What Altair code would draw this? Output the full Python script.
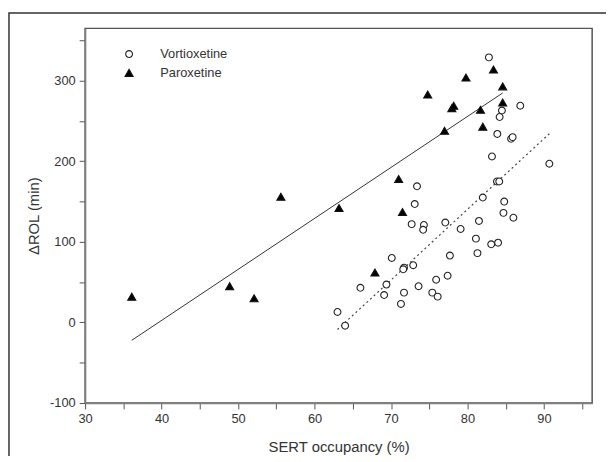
import altair as alt
import pandas as pd

# ---- data ----
drugs = ["Vortioxetine", "Paroxetine"]

vort_x = [82.8, 86.9, 84.5, 84.2, 83.9, 85.7, 85.9, 83.2, 90.7, 83.85,
          84.15, 73.4, 82.0, 84.8, 73.1, 84.7, 86.0, 81.5, 77.1, 72.7,
          74.3, 74.2, 79.1, 81.1, 83.1, 84.0, 81.3, 70.1, 77.7, 72.9,
          71.7, 71.6, 66.0, 69.4, 69.1, 71.7, 71.3, 73.6, 75.9, 77.4,
          75.4, 76.1, 63.0, 64.0]
vort_y = [329, 269, 263, 255, 234, 228, 230, 206, 197, 175,
          175, 169, 155, 150, 147, 136, 130, 126, 124, 122,
          121, 115, 116, 104, 97, 99, 86, 80, 83, 71,
          68, 66, 43, 47, 34, 37, 23, 45, 53, 58,
          37, 32, 13, -4]

par_x = [36.1, 48.9, 52.1, 55.6, 63.2, 67.9, 71.0, 71.5, 74.8, 77.0,
         77.95, 78.2, 79.8, 81.7, 82.0, 83.4, 84.6, 84.6]
par_y = [32, 45, 30, 156, 142, 62, 178, 137, 283, 238,
         266, 269, 304, 264, 243, 314, 293, 273]

x_ticks = [30, 35, 40, 45, 50, 55, 60, 65, 70, 75, 80, 85, 90, 95]
y_ticks = [-100, -50, 0, 50, 100, 150, 200, 250, 300, 350]

df = pd.DataFrame({
    "occ": vort_x + par_x,
    "rol": vort_y + par_y,
    "drug": [drugs[0]] * len(vort_x) + [drugs[1]] * len(par_x),
})

FONT = "Liberation Sans"
TXT = "#333333"

xscale = alt.Scale(domain=[30, 96.3], nice=False, zero=False)
yscale = alt.Scale(domain=[-100, 365], nice=False, zero=False)

common_axis = dict(
    grid=False, domainColor="#808080", domainWidth=1.5,
    tickColor="#555555", tickSize=6, tickWidth=1,
    labelFont=FONT, labelFontSize=13, labelColor=TXT, labelPadding=4,
    labelOverlap=False, labelFlush=False,
    titleFont=FONT, titleFontSize=15, titleFontWeight="normal", titleColor=TXT,
)
xaxis = alt.Axis(title="SERT occupancy (%)", values=x_ticks,
                 labelExpr="datum.value % 10 === 0 ? toString(datum.value) : ''",
                 titlePadding=14, **common_axis)
yaxis = alt.Axis(title="ΔROL (min)", values=y_ticks,
                 labelExpr="datum.value % 100 === 0 ? toString(datum.value) : ''",
                 titlePadding=8, **common_axis)

X = alt.X("occ:Q", scale=xscale, axis=xaxis)
Y = alt.Y("rol:Q", scale=yscale, axis=yaxis)

legend = alt.Legend(title=None, orient="none", legendX=38, legendY=19.5,
                    labelFont=FONT, labelFontSize=13, labelColor=TXT,
                    labelOffset=25, rowPadding=5, padding=0,
                    symbolStrokeWidth=1.1)

points = alt.Chart(df).mark_point(filled=False, strokeWidth=1.1, opacity=1).encode(
    x=X, y=Y,
    shape=alt.Shape("drug:N", scale=alt.Scale(domain=drugs, range=["circle", "triangle-up"]), legend=legend),
    fill=alt.Fill("drug:N", scale=alt.Scale(domain=drugs, range=["white", "black"]), legend=legend),
    stroke=alt.Stroke("drug:N", scale=alt.Scale(domain=drugs, range=["#222222", "#111111"]), legend=legend),
    size=alt.Size("drug:N", scale=alt.Scale(domain=drugs, range=[48, 66]), legend=legend),
)

par_line = alt.Chart(df).transform_filter(
    alt.datum.drug == "Paroxetine"
).transform_regression("occ", "rol").mark_line(color="#333333", strokeWidth=1).encode(x=X, y=Y)

vort_line = alt.Chart(df).transform_filter(
    alt.datum.drug == "Vortioxetine"
).transform_regression("occ", "rol").mark_line(
    color="#444444", strokeWidth=1.2, strokeDash=[2, 3]).encode(x=X, y=Y)

border = alt.Chart(alt.Data(values=[{"a": 1}])).mark_rect(
    filled=False, stroke="#333333", strokeWidth=1.5, fill=None
).encode(x=alt.value(-77), y=alt.value(-15.5), x2=alt.value(800), y2=alt.value(800))

chart = alt.layer(border, vort_line, par_line, points).properties(
    width=513, height=379,
    autosize=alt.AutoSizeParams(type="none"),
    padding={"left": 78, "top": 18, "right": 14, "bottom": 51},
).configure_view(stroke="#555555", strokeWidth=1.5)

chart.save("out.html", embed_options={"renderer": "svg", "actions": False})
